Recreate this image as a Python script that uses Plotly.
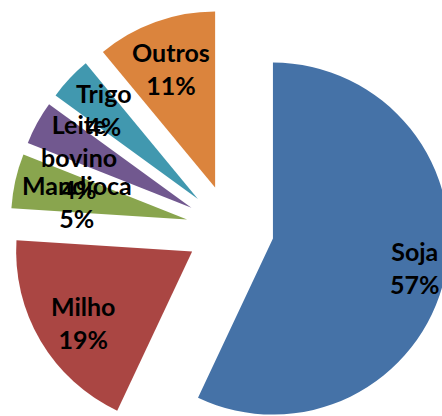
import plotly.graph_objects as go

labels = ["Soja", "Milho", "Mandioca", "Leite bovino", "Trigo", "Outros"]
values = [57, 19, 5, 4, 4, 11]
colors = ["#4572A7", "#AA4643", "#89A54E", "#71588F", "#4198AF", "#DB843D"]
pulls = [0.25, 0.25, 0.25, 0.25, 0.25, 0.25]

# label block centres (pixels from top-left of the figure)
label_pos = [(415, 267), (83, 322), (77, 201), (79, 156), (104, 110), (171, 68)]

W, H = 460, 460

fig = go.Figure(go.Pie(
    labels=labels,
    values=values,
    sort=False,
    direction="clockwise",
    rotation=0,
    pull=pulls,
    marker=dict(colors=colors, line=dict(width=0)),
    textinfo="none",
    hoverinfo="label+percent",
    showlegend=False,
    domain=dict(x=[10 / W, 450 / W], y=[11 / H, 451 / H]),
))

total = sum(values)
for lab, val, (px, py) in zip(labels, values, label_pos):
    txt = lab.replace(" ", "<br>") + "<br>" + f"{round(100 * val / total)}%"
    fig.add_annotation(
        text=txt,
        x=px / W, y=1 - py / H,
        xref="paper", yref="paper",
        xanchor="center", yanchor="middle",
        showarrow=False,
        font=dict(family="Lato", size=25, color="black", weight="bold"),
    )

fig.update_layout(
    width=W, height=H,
    margin=dict(l=0, r=0, t=0, b=0),
    paper_bgcolor="white",
    plot_bgcolor="white",
)

fig.write_html(
    "out.html",
    config={"displayModeBar": False},
    post_script="document.body.style.margin='0';document.body.style.overflow='hidden';",
)
